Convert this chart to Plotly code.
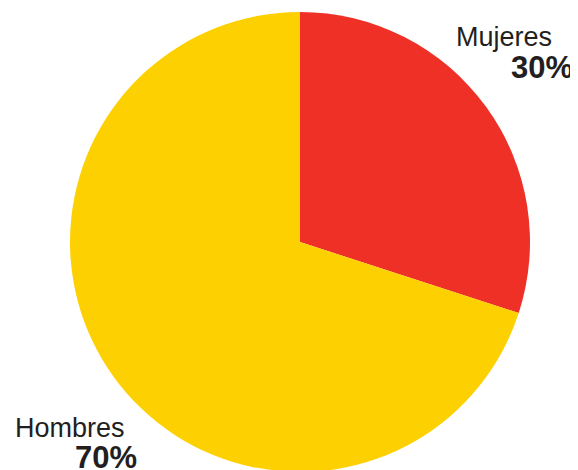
import plotly.graph_objects as go

labels = ["Mujeres", "Hombres"]
values = [30, 70]
pct_labels = ["30%", "70%"]
colors = ["#EF3026", "#FDD001"]

W, H = 578, 470
OFF = 8  # page body margin offset

def px(x):
    return (x - OFF) / W

def py(y):
    return 1 - (y - OFF) / H

fig = go.Figure(go.Pie(
    labels=labels, values=values, sort=False, direction="clockwise", rotation=0,
    marker=dict(colors=colors, line=dict(width=0)),
    textinfo="none", hoverinfo="label+percent", showlegend=False,
    domain=dict(x=[px(70), px(530)], y=[py(472), py(12)]),
))

txt = "#231F20"
font = "Liberation Sans, Arial, sans-serif"
fig.add_annotation(text=labels[0], x=px(554), y=py(36.5), xref="paper", yref="paper",
                   xanchor="right", yanchor="middle", showarrow=False,
                   font=dict(family=font, size=27, color=txt))
fig.add_annotation(text="<b>" + pct_labels[0] + "</b>", x=px(575), y=py(68), xref="paper", yref="paper",
                   xanchor="right", yanchor="middle", showarrow=False,
                   font=dict(family=font, size=31, color=txt))
fig.add_annotation(text=labels[1], x=px(13), y=py(427.5), xref="paper", yref="paper",
                   xanchor="left", yanchor="middle", showarrow=False,
                   font=dict(family=font, size=27, color=txt))
fig.add_annotation(text="<b>" + pct_labels[1] + "</b>", x=px(73), y=py(457.5), xref="paper", yref="paper",
                   xanchor="left", yanchor="middle", showarrow=False,
                   font=dict(family=font, size=31, color=txt))

fig.update_layout(width=W, height=H, margin=dict(l=0, r=0, t=0, b=0),
                  paper_bgcolor="white", plot_bgcolor="white")
fig.write_html("out.html")
